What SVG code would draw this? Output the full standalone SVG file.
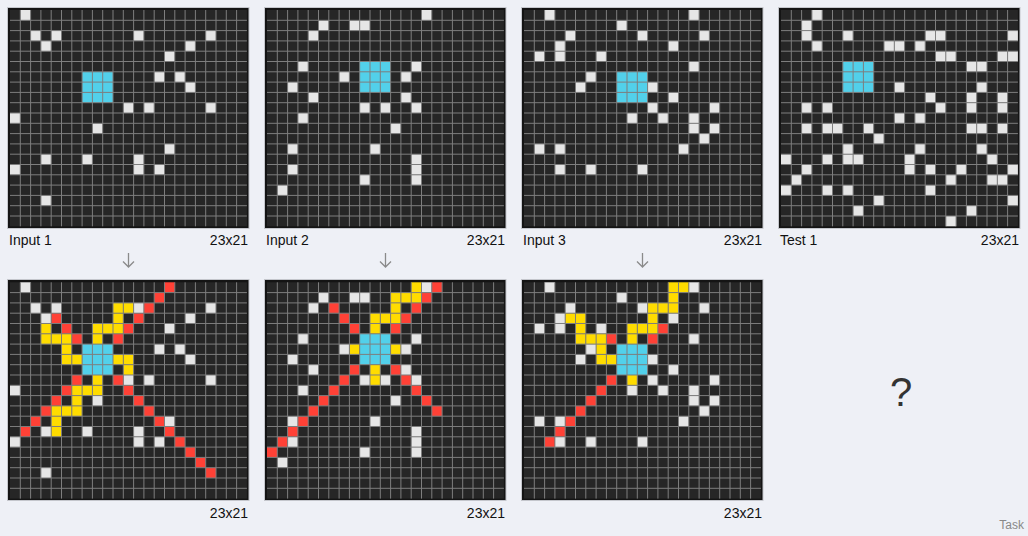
<svg xmlns="http://www.w3.org/2000/svg" xmlns:xlink="http://www.w3.org/1999/xlink" width="1028" height="536" viewBox="0 0 1028 536">
<style>
text{font-family:"Liberation Sans",Arial,sans-serif;}
.lbl{font-size:14px;fill:#111;}
.end{text-anchor:end;}
.frame{fill:#141414;stroke:#c4c6cc;stroke-width:1;}
.bg{fill:#262626;}
.w{fill:#e6e6e6;}
.c{fill:#52d0ea;}
.y{fill:#ffdc00;}
.r{fill:#ff4136;}
.gl{fill:none;stroke:#7e7e7e;stroke-width:1;vector-effect:non-scaling-stroke;}
.arr{fill:none;stroke:#8a8a8a;stroke-width:1.3;}
</style>
<defs>
<path id="gl" class="gl" d="M1 0V21M2 0V21M3 0V21M4 0V21M5 0V21M6 0V21M7 0V21M8 0V21M9 0V21M10 0V21M11 0V21M12 0V21M13 0V21M14 0V21M15 0V21M16 0V21M17 0V21M18 0V21M19 0V21M20 0V21M21 0V21M22 0V21M0 1H23M0 2H23M0 3H23M0 4H23M0 5H23M0 6H23M0 7H23M0 8H23M0 9H23M0 10H23M0 11H23M0 12H23M0 13H23M0 14H23M0 15H23M0 16H23M0 17H23M0 18H23M0 19H23M0 20H23"/>
</defs>
<rect width="1028" height="536" fill="#eef0f6"/>

<g id="input1">
<rect class="frame" x="7.5" y="7.5" width="241.5" height="221"/>
<g transform="translate(10 10) scale(10.3)">
<rect class="bg" width="23" height="21"/>
<rect class="c" x="7" y="6" width="3" height="3"/>
<rect class="w" x="1" y="0" width="1" height="1"/><rect class="w" x="2" y="2" width="1" height="1"/><rect class="w" x="4" y="2" width="1" height="1"/><rect class="w" x="12" y="2" width="1" height="1"/><rect class="w" x="19" y="2" width="1" height="1"/><rect class="w" x="3" y="3" width="1" height="1"/><rect class="w" x="17" y="3" width="1" height="1"/><rect class="w" x="15" y="4" width="1" height="1"/><rect class="w" x="14" y="6" width="1" height="1"/><rect class="w" x="16" y="6" width="1" height="1"/><rect class="w" x="17" y="7" width="1" height="1"/><rect class="w" x="11" y="9" width="1" height="1"/><rect class="w" x="13" y="9" width="1" height="1"/><rect class="w" x="19" y="9" width="1" height="1"/><rect class="w" x="0" y="10" width="1" height="1"/><rect class="w" x="8" y="11" width="1" height="1"/><rect class="w" x="15" y="13" width="1" height="1"/><rect class="w" x="3" y="14" width="1" height="1"/><rect class="w" x="7" y="14" width="1" height="1"/><rect class="w" x="12" y="14" width="1" height="1"/><rect class="w" x="0" y="15" width="1" height="1"/><rect class="w" x="12" y="15" width="1" height="1"/><rect class="w" x="14" y="15" width="1" height="1"/><rect class="w" x="3" y="18" width="1" height="1"/>
<use xlink:href="#gl" href="#gl"/>
</g>
<text class="lbl" x="9" y="245">Input 1</text>
<text class="lbl end" x="248" y="245">23x21</text>
</g>

<g id="input2">
<rect class="frame" x="264.5" y="7.5" width="241.5" height="221"/>
<g transform="translate(267 10) scale(10.3)">
<rect class="bg" width="23" height="21"/>
<rect class="c" x="9" y="5" width="3" height="3"/>
<rect class="w" x="15" y="0" width="1" height="1"/><rect class="w" x="5" y="1" width="1" height="1"/><rect class="w" x="8" y="1" width="1" height="1"/><rect class="w" x="9" y="1" width="1" height="1"/><rect class="w" x="4" y="2" width="1" height="1"/><rect class="w" x="3" y="5" width="1" height="1"/><rect class="w" x="14" y="5" width="1" height="1"/><rect class="w" x="7" y="6" width="1" height="1"/><rect class="w" x="13" y="6" width="1" height="1"/><rect class="w" x="2" y="7" width="1" height="1"/><rect class="w" x="4" y="8" width="1" height="1"/><rect class="w" x="13" y="8" width="1" height="1"/><rect class="w" x="9" y="9" width="1" height="1"/><rect class="w" x="11" y="9" width="1" height="1"/><rect class="w" x="14" y="9" width="1" height="1"/><rect class="w" x="3" y="10" width="1" height="1"/><rect class="w" x="12" y="11" width="1" height="1"/><rect class="w" x="2" y="13" width="1" height="1"/><rect class="w" x="10" y="13" width="1" height="1"/><rect class="w" x="14" y="14" width="1" height="1"/><rect class="w" x="2" y="15" width="1" height="1"/><rect class="w" x="14" y="15" width="1" height="1"/><rect class="w" x="9" y="16" width="1" height="1"/><rect class="w" x="14" y="16" width="1" height="1"/><rect class="w" x="1" y="17" width="1" height="1"/>
<use xlink:href="#gl" href="#gl"/>
</g>
<text class="lbl" x="266" y="245">Input 2</text>
<text class="lbl end" x="505" y="245">23x21</text>
</g>

<g id="input3">
<rect class="frame" x="521.5" y="7.5" width="241.5" height="221"/>
<g transform="translate(524 10) scale(10.3)">
<rect class="bg" width="23" height="21"/>
<rect class="c" x="9" y="6" width="3" height="3"/>
<rect class="w" x="2" y="0" width="1" height="1"/><rect class="w" x="16" y="0" width="1" height="1"/><rect class="w" x="9" y="1" width="1" height="1"/><rect class="w" x="4" y="2" width="1" height="1"/><rect class="w" x="11" y="2" width="1" height="1"/><rect class="w" x="17" y="2" width="1" height="1"/><rect class="w" x="3" y="3" width="1" height="1"/><rect class="w" x="14" y="3" width="1" height="1"/><rect class="w" x="1" y="4" width="1" height="1"/><rect class="w" x="3" y="4" width="1" height="1"/><rect class="w" x="7" y="4" width="1" height="1"/><rect class="w" x="16" y="5" width="1" height="1"/><rect class="w" x="6" y="6" width="1" height="1"/><rect class="w" x="5" y="7" width="1" height="1"/><rect class="w" x="12" y="7" width="1" height="1"/><rect class="w" x="14" y="8" width="1" height="1"/><rect class="w" x="12" y="9" width="1" height="1"/><rect class="w" x="18" y="9" width="1" height="1"/><rect class="w" x="10" y="10" width="1" height="1"/><rect class="w" x="13" y="10" width="1" height="1"/><rect class="w" x="16" y="10" width="1" height="1"/><rect class="w" x="16" y="11" width="1" height="1"/><rect class="w" x="18" y="11" width="1" height="1"/><rect class="w" x="17" y="12" width="1" height="1"/><rect class="w" x="1" y="13" width="1" height="1"/><rect class="w" x="3" y="13" width="1" height="1"/><rect class="w" x="15" y="13" width="1" height="1"/><rect class="w" x="3" y="15" width="1" height="1"/><rect class="w" x="6" y="15" width="1" height="1"/><rect class="w" x="11" y="15" width="1" height="1"/>
<use xlink:href="#gl" href="#gl"/>
</g>
<text class="lbl" x="523" y="245">Input 3</text>
<text class="lbl end" x="762" y="245">23x21</text>
</g>

<g id="test1">
<rect class="frame" x="778.5" y="7.5" width="241.5" height="221"/>
<g transform="translate(781 10) scale(10.3)">
<rect class="bg" width="23" height="21"/>
<rect class="c" x="6" y="5" width="3" height="3"/>
<rect class="w" x="3" y="0" width="1" height="1"/><rect class="w" x="2" y="1" width="1" height="1"/><rect class="w" x="2" y="2" width="1" height="1"/><rect class="w" x="6" y="2" width="1" height="1"/><rect class="w" x="14" y="2" width="1" height="1"/><rect class="w" x="15" y="2" width="1" height="1"/><rect class="w" x="22" y="2" width="1" height="1"/><rect class="w" x="3" y="3" width="1" height="1"/><rect class="w" x="10" y="3" width="1" height="1"/><rect class="w" x="11" y="3" width="1" height="1"/><rect class="w" x="13" y="3" width="1" height="1"/><rect class="w" x="15" y="4" width="1" height="1"/><rect class="w" x="16" y="4" width="1" height="1"/><rect class="w" x="21" y="4" width="1" height="1"/><rect class="w" x="22" y="4" width="1" height="1"/><rect class="w" x="18" y="5" width="1" height="1"/><rect class="w" x="19" y="5" width="1" height="1"/><rect class="w" x="11" y="7" width="1" height="1"/><rect class="w" x="19" y="7" width="1" height="1"/><rect class="w" x="14" y="8" width="1" height="1"/><rect class="w" x="18" y="8" width="1" height="1"/><rect class="w" x="21" y="8" width="1" height="1"/><rect class="w" x="2" y="9" width="1" height="1"/><rect class="w" x="4" y="9" width="1" height="1"/><rect class="w" x="15" y="9" width="1" height="1"/><rect class="w" x="18" y="9" width="1" height="1"/><rect class="w" x="21" y="9" width="1" height="1"/><rect class="w" x="11" y="10" width="1" height="1"/><rect class="w" x="13" y="10" width="1" height="1"/><rect class="w" x="2" y="11" width="1" height="1"/><rect class="w" x="4" y="11" width="1" height="1"/><rect class="w" x="5" y="11" width="1" height="1"/><rect class="w" x="8" y="11" width="1" height="1"/><rect class="w" x="18" y="11" width="1" height="1"/><rect class="w" x="19" y="11" width="1" height="1"/><rect class="w" x="21" y="11" width="1" height="1"/><rect class="w" x="9" y="12" width="1" height="1"/><rect class="w" x="6" y="13" width="1" height="1"/><rect class="w" x="13" y="13" width="1" height="1"/><rect class="w" x="19" y="13" width="1" height="1"/><rect class="w" x="0" y="14" width="1" height="1"/><rect class="w" x="4" y="14" width="1" height="1"/><rect class="w" x="6" y="14" width="1" height="1"/><rect class="w" x="7" y="14" width="1" height="1"/><rect class="w" x="12" y="14" width="1" height="1"/><rect class="w" x="20" y="14" width="1" height="1"/><rect class="w" x="2" y="15" width="1" height="1"/><rect class="w" x="12" y="15" width="1" height="1"/><rect class="w" x="14" y="15" width="1" height="1"/><rect class="w" x="17" y="15" width="1" height="1"/><rect class="w" x="22" y="15" width="1" height="1"/><rect class="w" x="1" y="16" width="1" height="1"/><rect class="w" x="16" y="16" width="1" height="1"/><rect class="w" x="20" y="16" width="1" height="1"/><rect class="w" x="21" y="16" width="1" height="1"/><rect class="w" x="0" y="17" width="1" height="1"/><rect class="w" x="4" y="17" width="1" height="1"/><rect class="w" x="6" y="17" width="1" height="1"/><rect class="w" x="14" y="17" width="1" height="1"/><rect class="w" x="9" y="18" width="1" height="1"/><rect class="w" x="22" y="18" width="1" height="1"/><rect class="w" x="7" y="19" width="1" height="1"/><rect class="w" x="18" y="19" width="1" height="1"/><rect class="w" x="16" y="20" width="1" height="1"/>
<use xlink:href="#gl" href="#gl"/>
</g>
<text class="lbl" x="780" y="245">Test 1</text>
<text class="lbl end" x="1019" y="245">23x21</text>
</g>

<g id="output1">
<rect class="frame" x="7.5" y="279.5" width="241.5" height="221"/>
<g transform="translate(10 282.3) scale(10.3)">
<rect class="bg" width="23" height="21"/>
<rect class="c" x="7" y="6" width="3" height="3"/>
<rect class="w" x="1" y="0" width="1" height="1"/><rect class="w" x="2" y="2" width="1" height="1"/><rect class="w" x="4" y="2" width="1" height="1"/><rect class="w" x="12" y="2" width="1" height="1"/><rect class="w" x="19" y="2" width="1" height="1"/><rect class="w" x="3" y="3" width="1" height="1"/><rect class="w" x="17" y="3" width="1" height="1"/><rect class="w" x="15" y="4" width="1" height="1"/><rect class="w" x="14" y="6" width="1" height="1"/><rect class="w" x="16" y="6" width="1" height="1"/><rect class="w" x="17" y="7" width="1" height="1"/><rect class="w" x="11" y="9" width="1" height="1"/><rect class="w" x="13" y="9" width="1" height="1"/><rect class="w" x="19" y="9" width="1" height="1"/><rect class="w" x="0" y="10" width="1" height="1"/><rect class="w" x="8" y="11" width="1" height="1"/><rect class="w" x="15" y="13" width="1" height="1"/><rect class="w" x="3" y="14" width="1" height="1"/><rect class="w" x="7" y="14" width="1" height="1"/><rect class="w" x="12" y="14" width="1" height="1"/><rect class="w" x="0" y="15" width="1" height="1"/><rect class="w" x="12" y="15" width="1" height="1"/><rect class="w" x="14" y="15" width="1" height="1"/><rect class="w" x="3" y="18" width="1" height="1"/>
<rect class="r" x="15" y="0" width="1" height="1"/><rect class="r" x="14" y="1" width="1" height="1"/><rect class="r" x="13" y="2" width="1" height="1"/><rect class="r" x="12" y="3" width="1" height="1"/><rect class="r" x="11" y="4" width="1" height="1"/><rect class="r" x="10" y="5" width="1" height="1"/><rect class="r" x="4" y="3" width="1" height="1"/><rect class="r" x="5" y="4" width="1" height="1"/><rect class="r" x="6" y="5" width="1" height="1"/><rect class="r" x="6" y="9" width="1" height="1"/><rect class="r" x="5" y="10" width="1" height="1"/><rect class="r" x="4" y="11" width="1" height="1"/><rect class="r" x="3" y="12" width="1" height="1"/><rect class="r" x="2" y="13" width="1" height="1"/><rect class="r" x="1" y="14" width="1" height="1"/><rect class="r" x="10" y="9" width="1" height="1"/><rect class="r" x="11" y="10" width="1" height="1"/><rect class="r" x="12" y="11" width="1" height="1"/><rect class="r" x="13" y="12" width="1" height="1"/><rect class="r" x="14" y="13" width="1" height="1"/><rect class="r" x="15" y="14" width="1" height="1"/><rect class="r" x="16" y="15" width="1" height="1"/><rect class="r" x="17" y="16" width="1" height="1"/><rect class="r" x="18" y="17" width="1" height="1"/><rect class="r" x="19" y="18" width="1" height="1"/>
<rect class="y" x="10" y="2" width="1" height="1"/><rect class="y" x="11" y="2" width="1" height="1"/><rect class="y" x="10" y="3" width="1" height="1"/><rect class="y" x="8" y="4" width="1" height="1"/><rect class="y" x="9" y="4" width="1" height="1"/><rect class="y" x="10" y="4" width="1" height="1"/><rect class="y" x="8" y="5" width="1" height="1"/><rect class="y" x="3" y="4" width="1" height="1"/><rect class="y" x="3" y="5" width="1" height="1"/><rect class="y" x="4" y="5" width="1" height="1"/><rect class="y" x="5" y="5" width="1" height="1"/><rect class="y" x="5" y="6" width="1" height="1"/><rect class="y" x="5" y="7" width="1" height="1"/><rect class="y" x="6" y="7" width="1" height="1"/><rect class="y" x="10" y="7" width="1" height="1"/><rect class="y" x="11" y="7" width="1" height="1"/><rect class="y" x="11" y="8" width="1" height="1"/><rect class="y" x="8" y="9" width="1" height="1"/><rect class="y" x="6" y="10" width="1" height="1"/><rect class="y" x="7" y="10" width="1" height="1"/><rect class="y" x="8" y="10" width="1" height="1"/><rect class="y" x="6" y="11" width="1" height="1"/><rect class="y" x="4" y="12" width="1" height="1"/><rect class="y" x="5" y="12" width="1" height="1"/><rect class="y" x="6" y="12" width="1" height="1"/><rect class="y" x="4" y="13" width="1" height="1"/><rect class="y" x="4" y="14" width="1" height="1"/>
<use xlink:href="#gl" href="#gl"/>
</g>
<text class="lbl end" x="248" y="518">23x21</text>
</g>

<g id="output2">
<rect class="frame" x="264.5" y="279.5" width="241.5" height="221"/>
<g transform="translate(267 282.3) scale(10.3)">
<rect class="bg" width="23" height="21"/>
<rect class="c" x="9" y="5" width="3" height="3"/>
<rect class="w" x="15" y="0" width="1" height="1"/><rect class="w" x="5" y="1" width="1" height="1"/><rect class="w" x="8" y="1" width="1" height="1"/><rect class="w" x="9" y="1" width="1" height="1"/><rect class="w" x="4" y="2" width="1" height="1"/><rect class="w" x="3" y="5" width="1" height="1"/><rect class="w" x="14" y="5" width="1" height="1"/><rect class="w" x="7" y="6" width="1" height="1"/><rect class="w" x="13" y="6" width="1" height="1"/><rect class="w" x="2" y="7" width="1" height="1"/><rect class="w" x="4" y="8" width="1" height="1"/><rect class="w" x="13" y="8" width="1" height="1"/><rect class="w" x="9" y="9" width="1" height="1"/><rect class="w" x="11" y="9" width="1" height="1"/><rect class="w" x="14" y="9" width="1" height="1"/><rect class="w" x="3" y="10" width="1" height="1"/><rect class="w" x="12" y="11" width="1" height="1"/><rect class="w" x="2" y="13" width="1" height="1"/><rect class="w" x="10" y="13" width="1" height="1"/><rect class="w" x="14" y="14" width="1" height="1"/><rect class="w" x="2" y="15" width="1" height="1"/><rect class="w" x="14" y="15" width="1" height="1"/><rect class="w" x="9" y="16" width="1" height="1"/><rect class="w" x="14" y="16" width="1" height="1"/><rect class="w" x="1" y="17" width="1" height="1"/>
<rect class="r" x="16" y="0" width="1" height="1"/><rect class="r" x="15" y="1" width="1" height="1"/><rect class="r" x="14" y="2" width="1" height="1"/><rect class="r" x="13" y="3" width="1" height="1"/><rect class="r" x="12" y="4" width="1" height="1"/><rect class="r" x="6" y="2" width="1" height="1"/><rect class="r" x="7" y="3" width="1" height="1"/><rect class="r" x="8" y="4" width="1" height="1"/><rect class="r" x="8" y="8" width="1" height="1"/><rect class="r" x="7" y="9" width="1" height="1"/><rect class="r" x="6" y="10" width="1" height="1"/><rect class="r" x="5" y="11" width="1" height="1"/><rect class="r" x="4" y="12" width="1" height="1"/><rect class="r" x="3" y="13" width="1" height="1"/><rect class="r" x="2" y="14" width="1" height="1"/><rect class="r" x="1" y="15" width="1" height="1"/><rect class="r" x="0" y="16" width="1" height="1"/><rect class="r" x="12" y="8" width="1" height="1"/><rect class="r" x="13" y="9" width="1" height="1"/><rect class="r" x="14" y="10" width="1" height="1"/><rect class="r" x="15" y="11" width="1" height="1"/><rect class="r" x="16" y="12" width="1" height="1"/>
<rect class="y" x="14" y="0" width="1" height="1"/><rect class="y" x="12" y="1" width="1" height="1"/><rect class="y" x="13" y="1" width="1" height="1"/><rect class="y" x="14" y="1" width="1" height="1"/><rect class="y" x="12" y="2" width="1" height="1"/><rect class="y" x="10" y="3" width="1" height="1"/><rect class="y" x="11" y="3" width="1" height="1"/><rect class="y" x="12" y="3" width="1" height="1"/><rect class="y" x="10" y="4" width="1" height="1"/><rect class="y" x="8" y="6" width="1" height="1"/><rect class="y" x="12" y="6" width="1" height="1"/><rect class="y" x="10" y="8" width="1" height="1"/><rect class="y" x="10" y="9" width="1" height="1"/>
<use xlink:href="#gl" href="#gl"/>
</g>
<text class="lbl end" x="505" y="518">23x21</text>
</g>

<g id="output3">
<rect class="frame" x="521.5" y="279.5" width="241.5" height="221"/>
<g transform="translate(524 282.3) scale(10.3)">
<rect class="bg" width="23" height="21"/>
<rect class="c" x="9" y="6" width="3" height="3"/>
<rect class="w" x="2" y="0" width="1" height="1"/><rect class="w" x="16" y="0" width="1" height="1"/><rect class="w" x="9" y="1" width="1" height="1"/><rect class="w" x="4" y="2" width="1" height="1"/><rect class="w" x="11" y="2" width="1" height="1"/><rect class="w" x="17" y="2" width="1" height="1"/><rect class="w" x="3" y="3" width="1" height="1"/><rect class="w" x="14" y="3" width="1" height="1"/><rect class="w" x="1" y="4" width="1" height="1"/><rect class="w" x="3" y="4" width="1" height="1"/><rect class="w" x="7" y="4" width="1" height="1"/><rect class="w" x="16" y="5" width="1" height="1"/><rect class="w" x="6" y="6" width="1" height="1"/><rect class="w" x="5" y="7" width="1" height="1"/><rect class="w" x="12" y="7" width="1" height="1"/><rect class="w" x="14" y="8" width="1" height="1"/><rect class="w" x="12" y="9" width="1" height="1"/><rect class="w" x="18" y="9" width="1" height="1"/><rect class="w" x="10" y="10" width="1" height="1"/><rect class="w" x="13" y="10" width="1" height="1"/><rect class="w" x="16" y="10" width="1" height="1"/><rect class="w" x="16" y="11" width="1" height="1"/><rect class="w" x="18" y="11" width="1" height="1"/><rect class="w" x="17" y="12" width="1" height="1"/><rect class="w" x="1" y="13" width="1" height="1"/><rect class="w" x="3" y="13" width="1" height="1"/><rect class="w" x="15" y="13" width="1" height="1"/><rect class="w" x="3" y="15" width="1" height="1"/><rect class="w" x="6" y="15" width="1" height="1"/><rect class="w" x="11" y="15" width="1" height="1"/>
<rect class="r" x="13" y="4" width="1" height="1"/><rect class="r" x="12" y="5" width="1" height="1"/><rect class="r" x="8" y="5" width="1" height="1"/><rect class="r" x="8" y="9" width="1" height="1"/><rect class="r" x="7" y="10" width="1" height="1"/><rect class="r" x="6" y="11" width="1" height="1"/><rect class="r" x="5" y="12" width="1" height="1"/><rect class="r" x="4" y="13" width="1" height="1"/><rect class="r" x="3" y="14" width="1" height="1"/><rect class="r" x="2" y="15" width="1" height="1"/>
<rect class="y" x="14" y="0" width="1" height="1"/><rect class="y" x="15" y="0" width="1" height="1"/><rect class="y" x="14" y="1" width="1" height="1"/><rect class="y" x="12" y="2" width="1" height="1"/><rect class="y" x="13" y="2" width="1" height="1"/><rect class="y" x="14" y="2" width="1" height="1"/><rect class="y" x="12" y="3" width="1" height="1"/><rect class="y" x="10" y="4" width="1" height="1"/><rect class="y" x="11" y="4" width="1" height="1"/><rect class="y" x="12" y="4" width="1" height="1"/><rect class="y" x="10" y="5" width="1" height="1"/><rect class="y" x="4" y="3" width="1" height="1"/><rect class="y" x="5" y="3" width="1" height="1"/><rect class="y" x="5" y="4" width="1" height="1"/><rect class="y" x="5" y="5" width="1" height="1"/><rect class="y" x="6" y="5" width="1" height="1"/><rect class="y" x="7" y="5" width="1" height="1"/><rect class="y" x="7" y="6" width="1" height="1"/><rect class="y" x="7" y="7" width="1" height="1"/><rect class="y" x="8" y="7" width="1" height="1"/><rect class="y" x="10" y="9" width="1" height="1"/>
<use xlink:href="#gl" href="#gl"/>
</g>
<text class="lbl end" x="762" y="518">23x21</text>
</g>

<g id="connectors">
<path class="arr" d="M128.5 253V267M123 261.5L128.5 267L134 261.5"/>
<path class="arr" d="M385.5 253V267M380 261.5L385.5 267L391 261.5"/>
<path class="arr" d="M642.5 253V267M637 261.5L642.5 267L648 261.5"/>
</g>

<g id="unknown">
<text x="901" y="405.5" font-size="40" text-anchor="middle" fill="#333">?</text>
</g>
<text x="1024" y="529" font-size="12" text-anchor="end" fill="#888">Task</text>
</svg>
